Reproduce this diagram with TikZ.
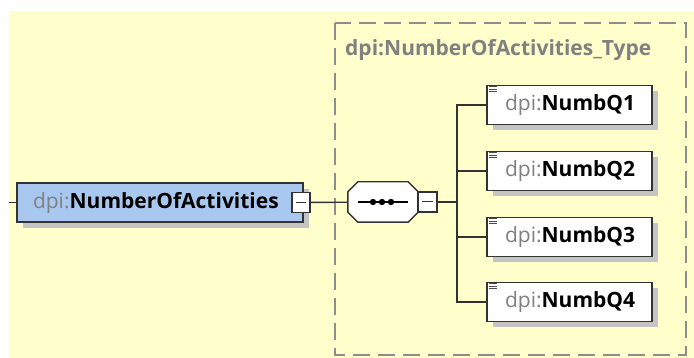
\documentclass[tikz,border=0pt]{standalone}
\usepackage{fontspec}
\setmainfont{Open Sans}
\usepackage{xcolor}
\usetikzlibrary{shadows, positioning}

\definecolor{bgyellow}{RGB}{255,255,204}
\definecolor{elemblue}{RGB}{168,200,240}
\definecolor{nsgray}{RGB}{128,128,128}
\definecolor{shadegray}{RGB}{196,196,196}

\newcommand{\ns}{\textcolor{nsgray}{\mdseries dpi:}}

\begin{document}
\begin{tikzpicture}[x=1pt, y=-1pt]
    % Define the styles for the nodes
    \tikzstyle{shade} = [drop shadow={shadow xshift=6pt, shadow yshift=-6pt, fill=shadegray, opacity=1}]
    \tikzstyle{elem} = [draw=black!80, line width=1.4pt, fill=white, shade, minimum height=39pt, inner ysep=0pt, align=left, font=\fontsize{21}{24}\selectfont\bfseries]
    \tikzstyle{minusbox} = [draw=black!80, line width=1.2pt, fill=white, minimum width=18pt, minimum height=20pt, inner sep=0pt,
        path picture={\draw[line width=1pt] ([xshift=4pt]path picture bounding box.west) -- ([xshift=-4pt]path picture bounding box.east);}]
    \tikzstyle{seqbox} = [minimum width=70pt, minimum height=40pt, inner sep=0pt]
    \tikzstyle{line} = [draw=black!80, line width=1.4pt]

    % Background
    \useasboundingbox (0,0) rectangle (694,358);
    \fill[bgyellow] (9,11) rectangle (694,358);

    % Complex type frame
    \draw[nsgray!90, line width=1.4pt, dash pattern=on 17pt off 8pt] (335,23) rectangle (686,355);
    \node[anchor=west, inner sep=0pt, text=nsgray, font=\fontsize{21}{24}\selectfont\bfseries] (typename) at (345,50) {dpi:NumberOfActivities\_Type};

    % Place the nodes
    \coordinate (start) at (9,202.5);
    \node[elem, fill=elemblue, text width=254pt, inner xsep=16pt] (main) at (160,202.5) {\ns NumberOfActivities};
    \node[seqbox] (seq) at (383,202) {};
    \coordinate (bus) at (457,202);
    \foreach \i/\y in {1/105, 2/171, 3/237, 4/302} {
        \node[elem, text width=129pt, inner xsep=18pt] (q\i) at (569.5,\y) {\ns NumbQ\i};
        \foreach \d in {2,4.5,7}
            \draw[line width=1pt, black!70] ([xshift=3pt, yshift=-\d pt]q\i.north west) -- ++(8,0);
    }

    % Sequence symbol (octagon)
    \fill[shadegray, shift={(6,6)}] ([xshift=10pt]seq.north west) -- ([xshift=-10pt]seq.north east) -- ([yshift=-10pt]seq.north east)
        -- ([yshift=10pt]seq.south east) -- ([xshift=-10pt]seq.south east) -- ([xshift=10pt]seq.south west)
        -- ([yshift=10pt]seq.south west) -- ([yshift=-10pt]seq.north west) -- cycle;
    \draw[line, fill=white] ([xshift=10pt]seq.north west) -- ([xshift=-10pt]seq.north east) -- ([yshift=-10pt]seq.north east)
        -- ([yshift=10pt]seq.south east) -- ([xshift=-10pt]seq.south east) -- ([xshift=10pt]seq.south west)
        -- ([yshift=10pt]seq.south west) -- ([yshift=-10pt]seq.north west) -- cycle;
    \draw[line width=1.4pt] ([xshift=-25pt]seq.center) -- ([xshift=25pt]seq.center);
    \foreach \dx in {-10,-1,8}
        \fill ([xshift=\dx pt]seq.center) circle (3.2pt);

    % Minus boxes
    \node[minusbox] (mainminus) at (301,202.5) {};
    \node[minusbox, minimum width=19pt] (seqminus) at (427.5,202) {};

    % Connect the nodes with paths
    \path[line] (start) -- (main);
    \path[line] (mainminus) -- (seq);
    \path[line] (seqminus) -- (bus);
    \foreach \i in {1,...,4}
        \path[line] (bus) |- (q\i.west);

\end{tikzpicture}
\end{document}
